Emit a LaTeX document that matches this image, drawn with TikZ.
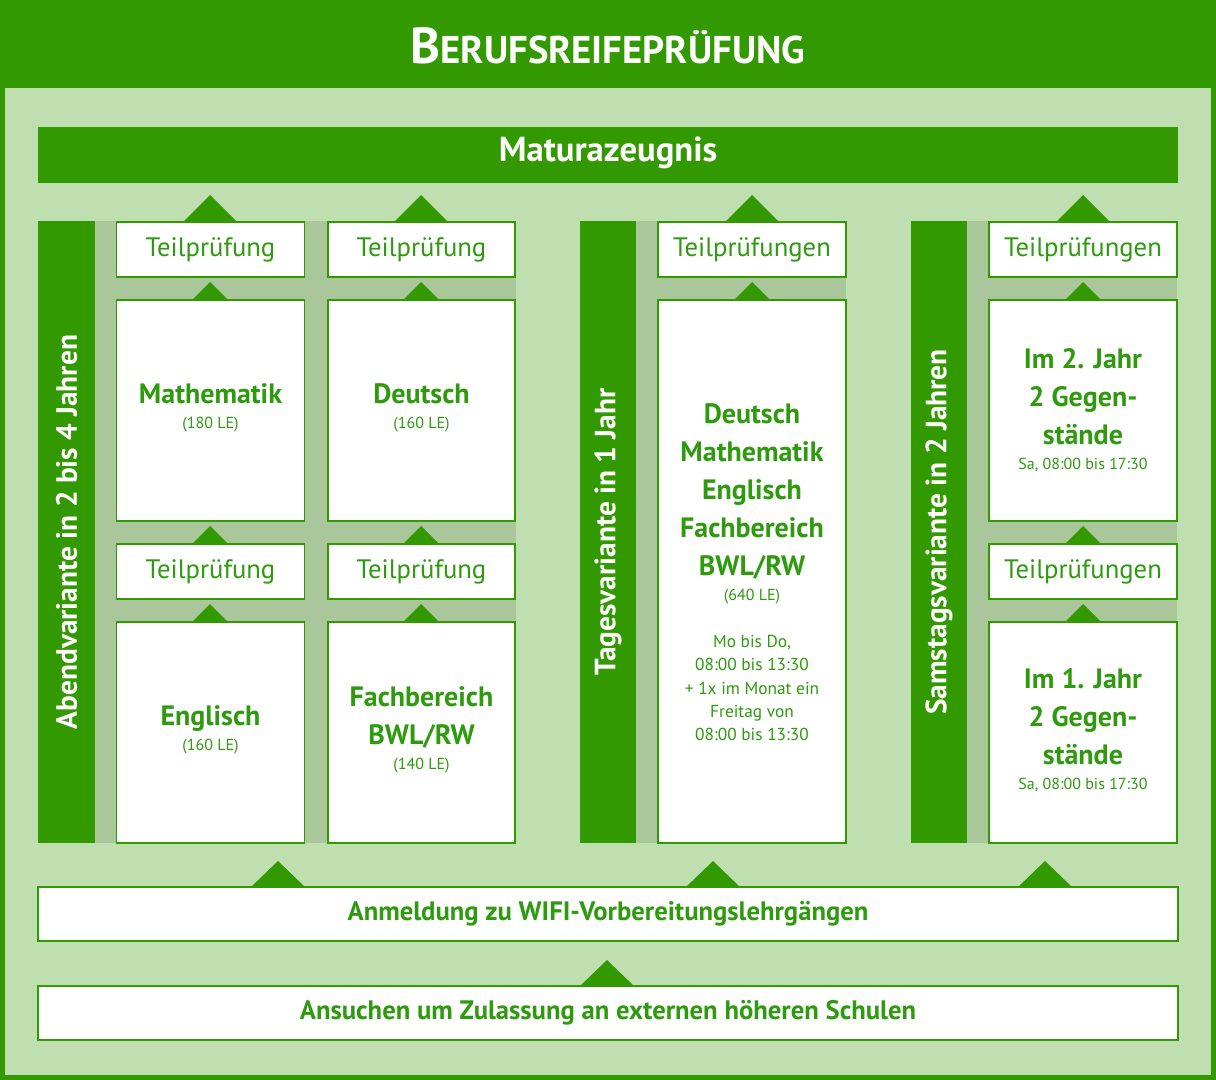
\documentclass[tikz,border=0pt]{standalone}
\usepackage{fontspec}
\setmainfont{PT Sans}
\definecolor{dg}{HTML}{339900}
\definecolor{lg}{HTML}{C0DFB0}
\definecolor{gg}{HTML}{A9C79A}
\definecolor{tg}{HTML}{2E9A0E}
\newcommand{\bigf}{\fontsize{21}{28.5}\selectfont\bfseries}
\newcommand{\smf}{\fontsize{12}{14}\selectfont\mdseries}
\begin{document}
\begin{tikzpicture}[x=0.75pt,y=-0.75pt,
 wbox/.style={draw=dg,line width=1.2pt,fill=white,text=tg,align=center,inner sep=0pt},
 bar/.style={fill=dg},
 tp/.style={font=\fontsize{20}{22}\selectfont},
 btxt/.style={text=tg,align=center,font=\bigf},
 vlab/.style={text=white,rotate=90,font=\fontsize{22}{24}\selectfont\bfseries},
 tri/.style={fill=dg}]
\fill[dg] (0,0) rectangle (1216,1080);
\fill[lg] (5,88) rectangle (1211,1075);
\node[text=white,font=\bfseries] (title) at (608,46) {\fontsize{38}{40}\selectfont B\fontsize{29}{32}\selectfont ERUFSREIFEPRÜFUNG};
\fill[dg] (38,127) rectangle (1178,183);
\node[text=white,font=\fontsize{26}{28}\selectfont\bfseries] (matura) at (608,153) {Maturazeugnis};
\foreach \x in {210,421,752,1083}{\fill[tri] (\x-27,222)--(\x,195)--(\x+27,222)--cycle;}
\fill[bar] (38,221) rectangle (95,843);
\fill[gg] (95,221) rectangle (516,843);
\fill[bar] (580,221) rectangle (636,843);
\fill[gg] (636,221) rectangle (846,843);
\fill[bar] (911,221) rectangle (967,843);
\fill[gg] (967,221) rectangle (1177,843);
\node[vlab] (v1) at (66.5,532) {Abendvariante in 2 bis 4 Jahren};
\node[vlab] (v2) at (608,532) {Tagesvariante in 1 Jahr};
\node[vlab] (v3) at (939,532) {Samstagsvariante in 2 Jahren};
\foreach \x/\y in {210/300,421/300,752/300,1083/300,210/622,421/622,1083/622,210/544,421/544,1083/544}{\fill[tri] (\x-18,\y)--(\x,\y-18)--(\x+18,\y)--cycle;}
\node[wbox,tp,minimum width=141pt,minimum height=41pt] (t1) at (210.5,249.5) {Teilprüfung};
\node[wbox,tp,minimum width=140pt,minimum height=41pt] (t2) at (421.5,249.5) {Teilprüfung};
\node[wbox,tp,minimum width=141pt,minimum height=41pt] (t3) at (210.5,571.5) {Teilprüfung};
\node[wbox,tp,minimum width=140pt,minimum height=41pt] (t4) at (421.5,571.5) {Teilprüfung};
\node[wbox,tp,minimum width=141pt,minimum height=41pt] (t5) at (752,249.5) {Teilprüfungen};
\node[wbox,tp,minimum width=141pt,minimum height=41pt] (t6) at (1083,249.5) {Teilprüfungen};
\node[wbox,tp,minimum width=141pt,minimum height=41pt] (t7) at (1083,571.5) {Teilprüfungen};
\node[wbox,minimum width=141pt,minimum height=166pt] (m) at (210.5,410.5) {};
\node[btxt] (mt) at (210.5,408) {Mathematik\\[-10pt]\smf (180 LE)};
\node[wbox,minimum width=140pt,minimum height=166pt] (d) at (421.5,410.5) {};
\node[btxt] (dt) at (421.5,408) {Deutsch\\[-10pt]\smf (160 LE)};
\node[wbox,minimum width=141pt,minimum height=166pt] (e) at (210.5,732.5) {};
\node[btxt] (et) at (210.5,730) {Englisch\\[-10pt]\smf (160 LE)};
\node[wbox,minimum width=140pt,minimum height=166pt] (f) at (421.5,732.5) {};
\node[btxt] (ft) at (421.5,730) {Fachbereich\\BWL/RW\\[-10pt]\smf (140 LE)};
\node[wbox,minimum width=141pt,minimum height=407pt] (big) at (752,571.5) {};
\node[btxt] (bt) at (752,504) {Deutsch\\Mathematik\\Englisch\\Fachbereich\\BWL/RW\\[-10pt]\smf (640 LE)};
\node[text=tg,align=center,font=\fontsize{13}{17.5}\selectfont] (bt2) at (752,688) {Mo bis Do,\\08:00 bis 13:30\\+ 1x im Monat ein\\Freitag von\\08:00 bis 13:30};
\node[wbox,minimum width=141pt,minimum height=166pt] (j2) at (1083,410.5) {};
\node[btxt] (j2t) at (1083,410) {Im 2. Jahr\\2 Gegen-\\stände\\[-10pt]\smf Sa, 08:00 bis 17:30};
\node[wbox,minimum width=141pt,minimum height=166pt] (j1) at (1083,732.5) {};
\node[btxt] (j1t) at (1083,730) {Im 1. Jahr\\2 Gegen-\\stände\\[-10pt]\smf Sa, 08:00 bis 17:30};
\foreach \x in {278,713,1045}{\fill[tri] (\x-27,887)--(\x,861)--(\x+27,887)--cycle;}
\fill[tri] (607-27,986)--(607,960)--(607+27,986)--cycle;
\node[wbox,minimum width=855pt,minimum height=40.5pt,font=\fontsize{20}{22}\selectfont\bfseries] (anm) at (608,914) {Anmeldung zu WIFI-Vorbereitungslehrgängen};
\node[wbox,minimum width=855pt,minimum height=40.5pt,font=\fontsize{20}{22}\selectfont\bfseries] (ans) at (608,1013) {Ansuchen um Zulassung an externen höheren Schulen};
\end{tikzpicture}
\end{document}
